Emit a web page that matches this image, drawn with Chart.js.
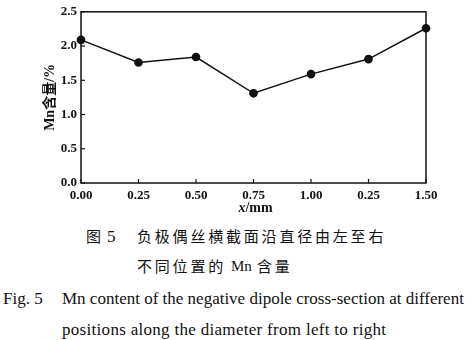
<!DOCTYPE html>
<html>
<head>
<meta charset="utf-8">
<script src="https://cdn.jsdelivr.net/npm/chart.js@4/dist/chart.umd.min.js"></script>
<style>
  body { margin: 0; background: #fff; width: 476px; height: 340px; overflow: hidden; position: relative; }
  #wrap { position: absolute; left: 0; top: 0; width: 476px; height: 216px; }
  .cap { position: absolute; white-space: nowrap; color: #111; line-height: 1; }
  .zh { font-family: "Noto Sans CJK SC", sans-serif; font-size: 15px; letter-spacing: 2.8px; }
  .en { font-family: "Liberation Serif", serif; font-size: 17px; }
</style>
</head>
<body>
<div id="wrap"><canvas id="mnChart" width="476" height="216"></canvas></div>
<div class="cap zh" style="left:86px; top:228px;">图</div>
<div class="cap en" style="left:107px; top:228px;">5</div>
<div class="cap zh" style="left:137px; top:228px;">负极偶丝横截面沿直径由左至右</div>
<div class="cap zh" style="left:137px; top:258px;">不同位置的</div>
<div class="cap en" style="left:231px; top:259px; font-size:15px;">Mn</div>
<div class="cap zh" style="left:257px; top:258px;">含量</div>
<div class="cap en" style="left:3px; top:290px;">Fig. 5</div>
<div class="cap en" style="left:62px; top:290px;">Mn content of the negative dipole cross-section at different</div>
<div class="cap en" style="left:62px; top:321px; letter-spacing:0.3px;">positions along the diameter from left to right</div>
<script>
const positions = ["0.00", "0.25", "0.50", "0.75", "1.00", "0.25", "1.50"];
const mnContent = [2.09, 1.76, 1.84, 1.31, 1.59, 1.81, 2.26];
const yTicks = [0.0, 0.5, 1.0, 1.5, 2.0, 2.5];

const tickFont = { family: "'Liberation Serif', serif", size: 13, weight: "bold" };

// frame round the plot, short inward ticks, x title with italic x
const framePlugin = {
    id: "frame",
    afterDraw(chart) {
        const { ctx, chartArea: a, scales } = chart;
        ctx.save();
        ctx.strokeStyle = "#111";
        ctx.lineWidth = 1.5;
        ctx.strokeRect(a.left, a.top, a.right - a.left, a.bottom - a.top);
        ctx.lineWidth = 1.2;
        scales.y.ticks.forEach((t, i) => {
            const y = scales.y.getPixelForTick(i);
            ctx.beginPath();
            ctx.moveTo(a.left, y);
            ctx.lineTo(a.left + 4, y);
            ctx.stroke();
        });
        scales.x.ticks.forEach((t, i) => {
            const x = scales.x.getPixelForTick(i);
            ctx.beginPath();
            ctx.moveTo(x, a.bottom);
            ctx.lineTo(x, a.bottom - 4);
            ctx.stroke();
        });
        // x axis title
        ctx.fillStyle = "#111";
        ctx.textBaseline = "middle";
        ctx.font = "italic bold 14px 'Liberation Serif'";
        const w1 = ctx.measureText("x").width;
        ctx.font = "bold 14px 'Liberation Serif'";
        const w2 = ctx.measureText("/mm").width;
        let x0 = (a.left + a.right) / 2 - (w1 + w2) / 2 + 2;
        const yT = a.bottom + 25;
        ctx.font = "italic bold 14px 'Liberation Serif'";
        ctx.fillText("x", x0, yT);
        ctx.font = "bold 14px 'Liberation Serif'";
        ctx.fillText("/mm", x0 + w1, yT);
        ctx.restore();
    }
};

const ctx = document.getElementById("mnChart").getContext("2d");
new Chart(ctx, {
    type: "line",
    data: {
        labels: positions,
        datasets: [{
            data: mnContent,
            borderColor: "#111",
            backgroundColor: "#111",
            borderWidth: 1.5,
            pointRadius: 3.6,
            pointHoverRadius: 3.6,
            tension: 0
        }]
    },
    options: {
        responsive: false,
        animation: false,
        layout: { padding: { left: 0, right: 50, top: 9, bottom: 0 } },
        plugins: { legend: { display: false }, tooltip: { enabled: false } },
        scales: {
            x: {
                type: "category",
                offset: false,
                grid: { display: false, drawTicks: false },
                border: { display: false },
                ticks: { color: "#111", font: tickFont, padding: 5, maxRotation: 0, autoSkip: false },
                afterFit: s => { s.height = 33; }
            },
            y: {
                min: 0,
                max: 2.5,
                afterBuildTicks: s => { s.ticks = yTicks.map(v => ({ value: v })); },
                grid: { display: false, drawTicks: false },
                border: { display: false },
                ticks: { color: "#111", font: tickFont, padding: 4, callback: v => v.toFixed(1) },
                title: { display: true, text: "Mn含量/%", color: "#111", font: { family: "'Liberation Serif', 'Noto Sans CJK SC', serif", size: 14, weight: "bold" }, padding: { top: 42, bottom: 0 } },
                afterFit: s => { s.width = 81; }
            }
        }
    },
    plugins: [framePlugin]
});
</script>
</body>
</html>
